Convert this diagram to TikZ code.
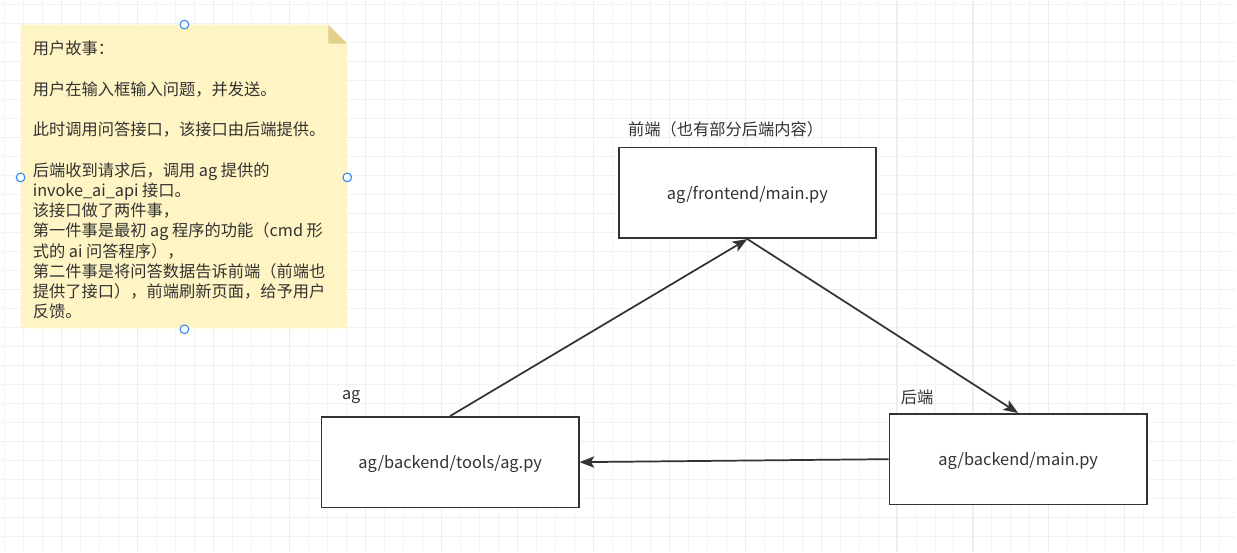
\documentclass[tikz,border=0pt]{standalone}
\usepackage{fontspec}
\setmainfont{Noto Sans CJK SC}
\usetikzlibrary{calc}
\usetikzlibrary{arrows.meta}
\definecolor{ink}{HTML}{333333}
\definecolor{gridminor}{HTML}{F3F3F3}
\definecolor{gridmajor}{HTML}{EEEEEE}
\definecolor{notefill}{HTML}{FFF4C3}
\definecolor{notefold}{HTML}{E3D08C}
\definecolor{handle}{HTML}{2F86F6}

\begin{document}
\begin{tikzpicture}[x=0.75pt, y=-0.75pt,
    file/.style={draw=ink, line width=1.3pt, fill=white, minimum width=193pt,
      minimum height=68pt, inner sep=0pt, text depth=0pt, text=ink,
      font=\fontsize{12.3}{14}\selectfont},
    tag/.style={anchor=west, inner sep=0pt, text=ink, font=\fontsize{12.2}{14}\selectfont},
    flow/.style={draw=ink, line width=1.3pt, -{Stealth[length=11pt, width=8.5pt, inset=2.5pt]}},
    knob/.style={circle, draw=handle, fill=white, line width=0.8pt,
      minimum size=6.5pt, inner sep=0pt}]
            % background grid
            \fill[white] (0,0) rectangle (1237,552);
            \foreach \gx in {0,...,64}
                \draw[gridminor, line width=0.75pt] ({4.3+19*\gx},0) -- ({4.3+19*\gx},552);
            \foreach \gy in {0,...,28}
                \draw[gridminor, line width=0.75pt] (0,{4+19*\gy}) -- (1237,{4+19*\gy});
            \foreach \gx in {0,...,15}
                \draw[gridmajor, line width=0.9pt] ({61.3+76*\gx},0) -- ({61.3+76*\gx},552);
            \foreach \gy in {0,...,6}
                \draw[gridmajor, line width=0.9pt] (0,{61+76*\gy}) -- (1237,{61+76*\gy});
            \useasboundingbox (0,0) rectangle (1237,552);
            % sticky note
            \fill[notefill] (20,24) -- (328,24) -- (347,43) -- (347,328) -- (20,328) -- cycle;
            \fill[notefold] (328,24) -- (328,43) -- (347,43) -- cycle;
            \node[anchor=north west, align=left, inner sep=0pt, text=ink,
                font=\fontsize{12.2}{15.2}\selectfont] (story) at (32,40) {%
                用户故事：\\ \mbox{}\\
                用户在输入框输入问题，并发送。\\ \mbox{}\\
                此时调用问答接口，该接口由后端提供。\\ \mbox{}\\
                后端收到请求后，调用 ag 提供的\\
                invoke\_ai\_api 接口。\\
                该接口做了两件事，\\
                第一件事是最初 ag 程序的功能（cmd 形\\
                式的 ai 问答程序），\\
                第二件事是将问答数据告诉前端（前端也\\
                提供了接口），前端刷新页面，给予用户\\
                反馈。};
            \node[knob] (note top) at (184,24) {};
            \node[knob] (note left) at (20,177) {};
            \node[knob] (note right) at (347,177) {};
            \node[knob] (note bottom) at (184,329) {};
            % files
            \node[file] (front) at (747.5,192.5) {ag/frontend/main.py};
            \node[file] (tools) at (450,462) {ag/backend/tools/ag.py};
            \node[file] (back) at (1018.5,459) {ag/backend/main.py};
            \node[tag] (front label) at ($(front.north west)+(10,-17)$) {前端（也有部分后端内容）};
            \node[tag] (tools label) at ($(tools.north west)+(21,-19)$) {ag};
            \node[tag] (back label) at ($(back.north west)+(12,-16)$) {后端};
            \draw[flow] (tools.north) -- (front.south);
            \draw[flow] (front.south) -- (back.north);
            \draw[flow] (back.west) -- (tools.east);
        \end{tikzpicture}
\end{document}
